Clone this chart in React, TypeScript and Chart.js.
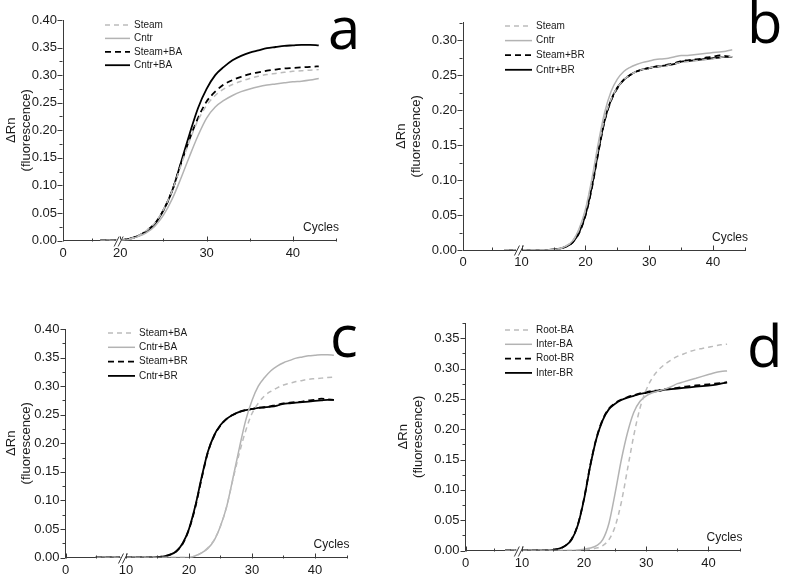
import React, { useEffect, useRef } from 'react';
import { Chart, LinearScale, registerables } from 'chart.js';

Chart.register(...registerables);

class BrokenLinearScale extends LinearScale {
  static id = 'brokenLinear';
  static defaults = LinearScale.defaults;
  _u(v: number) {
    const b = (this as any).options.brk;
    return v < b.at ? v * b.ratio : b.at * b.ratio + (v - b.at);
  }
  getPixelForValue(value: any) {
    if (value === null || value === undefined) return NaN;
    const s: any = this;
    const u0 = this._u(s.min), u1 = this._u(s.max);
    return s.getPixelForDecimal((this._u(value) - u0) / (u1 - u0));
  }
  getValueForPixel(pixel: number) {
    const s: any = this;
    const b = s.options.brk;
    const u0 = this._u(s.min), u1 = this._u(s.max);
    const u = u0 + s.getDecimalForPixel(pixel) * (u1 - u0);
    const ub = b.at * b.ratio;
    return u < ub ? u / b.ratio : b.at + (u - ub);
  }
}
Chart.register(BrokenLinearScale as any);

// ---------------- data ----------------
const CYCLES = [5, 6, 7, 8, 9, 10, 11, 12, 13, 14, 15, 16, 17, 18, 19, 20, 21, 22, 23, 24, 25, 26, 27, 28, 29, 30, 31, 32, 33, 34, 35, 36, 37, 38, 39, 40, 41, 42, 43];

// panel a
const A_STEAM = [0, 0, 0, 0, 0, 0, 0, 0, 0, 0, 0, 0, 0, 0, 0, 0, 0.003, 0.008, 0.018, 0.032, 0.056, 0.090, 0.135, 0.180, 0.218, 0.245, 0.263, 0.275, 0.283, 0.289, 0.294, 0.298, 0.301, 0.303, 0.305, 0.307, 0.308, 0.309, 0.310];
const A_CNTR = [0, 0, 0, 0, 0, 0, 0, 0, 0, 0, 0, 0, 0, 0, 0, 0, 0.002, 0.007, 0.014, 0.026, 0.046, 0.075, 0.112, 0.152, 0.190, 0.222, 0.242, 0.254, 0.263, 0.270, 0.275, 0.279, 0.282, 0.284, 0.286, 0.288, 0.289, 0.291, 0.294];
const STEAM_BA = [0, 0, 0, 0, 0, 0, 0, 0, 0, 0, 0, 0, 0, 0, 0, 0, 0.003, 0.008, 0.017, 0.031, 0.055, 0.090, 0.138, 0.183, 0.222, 0.252, 0.270, 0.283, 0.291, 0.297, 0.302, 0.305, 0.308, 0.310, 0.312, 0.313, 0.314, 0.315, 0.316];
const CNTR_BA = [0, 0, 0, 0, 0, 0, 0, 0, 0, 0, 0, 0, 0, 0, 0, 0, 0.003, 0.008, 0.016, 0.030, 0.055, 0.090, 0.140, 0.192, 0.240, 0.275, 0.300, 0.315, 0.327, 0.335, 0.341, 0.345, 0.349, 0.351, 0.353, 0.354, 0.355, 0.355, 0.354];

// panel b
const B_STEAM = [0, 0, 0, 0, 0, 0, 0, 0, 0, 0, 0.001, 0.002, 0.006, 0.013, 0.029, 0.056, 0.097, 0.146, 0.188, 0.215, 0.232, 0.243, 0.250, 0.255, 0.258, 0.260, 0.262, 0.263, 0.264, 0.266, 0.268, 0.269, 0.270, 0.271, 0.272, 0.273, 0.275, 0.276, 0.276];
const B_CNTR = [0, 0, 0, 0, 0, 0, 0, 0, 0, 0, 0.001, 0.002, 0.006, 0.013, 0.030, 0.058, 0.101, 0.152, 0.196, 0.226, 0.244, 0.255, 0.261, 0.265, 0.268, 0.270, 0.272, 0.273, 0.274, 0.276, 0.278, 0.278, 0.279, 0.280, 0.281, 0.282, 0.283, 0.284, 0.286];
const STEAM_BR = [0, 0, 0, 0, 0, 0, 0, 0, 0, 0, 0.001, 0.002, 0.005, 0.011, 0.024, 0.049, 0.088, 0.138, 0.184, 0.213, 0.231, 0.243, 0.250, 0.255, 0.258, 0.260, 0.262, 0.263, 0.265, 0.267, 0.270, 0.271, 0.272, 0.273, 0.275, 0.276, 0.278, 0.277, 0.276];
const CNTR_BR = [0, 0, 0, 0, 0, 0, 0, 0, 0, 0, 0.001, 0.002, 0.005, 0.011, 0.025, 0.050, 0.090, 0.140, 0.185, 0.214, 0.232, 0.243, 0.250, 0.255, 0.258, 0.260, 0.262, 0.263, 0.264, 0.266, 0.269, 0.270, 0.271, 0.272, 0.273, 0.274, 0.275, 0.276, 0.276];

// panel d
const ROOT_BA = [0, 0, 0, 0, 0, 0, 0, 0, 0, 0, 0, 0, 0, 0, 0, 0.001, 0.002, 0.004, 0.008, 0.018, 0.040, 0.080, 0.135, 0.190, 0.235, 0.265, 0.285, 0.298, 0.307, 0.314, 0.320, 0.324, 0.328, 0.331, 0.333, 0.335, 0.337, 0.339, 0.340];
const INTER_BA = [0, 0, 0, 0, 0, 0, 0, 0, 0, 0, 0, 0, 0, 0, 0.001, 0.002, 0.004, 0.008, 0.018, 0.045, 0.095, 0.150, 0.195, 0.228, 0.246, 0.255, 0.260, 0.263, 0.266, 0.270, 0.275, 0.278, 0.281, 0.284, 0.287, 0.290, 0.293, 0.295, 0.296];
const ROOT_BR = [0, 0, 0, 0, 0, 0, 0, 0, 0, 0, 0.001, 0.003, 0.008, 0.019, 0.043, 0.086, 0.141, 0.186, 0.216, 0.234, 0.243, 0.249, 0.253, 0.256, 0.259, 0.261, 0.263, 0.264, 0.266, 0.267, 0.268, 0.270, 0.271, 0.272, 0.273, 0.274, 0.275, 0.276, 0.277];
const INTER_BR = [0, 0, 0, 0, 0, 0, 0, 0, 0, 0, 0.001, 0.003, 0.008, 0.018, 0.042, 0.085, 0.140, 0.185, 0.215, 0.233, 0.242, 0.248, 0.252, 0.255, 0.258, 0.260, 0.262, 0.263, 0.265, 0.266, 0.267, 0.268, 0.269, 0.270, 0.271, 0.272, 0.273, 0.275, 0.277];

const X_TICKS_A = [0, 20, 30, 40];
const X_MINOR_A = [10, 25, 35, 45];
const X_TICKS = [0, 10, 20, 30, 40];
const X_MINOR = [5, 15, 25, 35, 45];
const Y_TICKS_40 = [0, 0.05, 0.1, 0.15, 0.2, 0.25, 0.3, 0.35, 0.4];
const Y_TICKS_30 = [0, 0.05, 0.1, 0.15, 0.2, 0.25, 0.3];
const Y_TICKS_35 = [0, 0.05, 0.1, 0.15, 0.2, 0.25, 0.3, 0.35];
const Y_MINOR_40 = [0.025, 0.075, 0.125, 0.175, 0.225, 0.275, 0.325, 0.375];
const Y_MINOR_30 = [0.025, 0.075, 0.125, 0.175, 0.225, 0.275, 0.325];
const Y_MINOR_35 = [0.025, 0.075, 0.125, 0.175, 0.225, 0.275, 0.325, 0.375];

const Y_TITLE = ['\u0394Rn', '(fluorescence)'];
const X_TITLE = 'Cycles';

// ---------------- styles ----------------
const FONT = '"Liberation Sans", Arial, sans-serif';
const AXIS = '#3a3a3a';
const TEXT = '#1a1a1a';
const GRAY = '#b3b3b3';
const GRAY_D = '#bcbcbc';
const BLACK = '#000000';

const ST_GRAY_DASH = { borderColor: GRAY_D, borderWidth: 1.5, borderDash: [5, 4] };
const ST_GRAY = { borderColor: GRAY, borderWidth: 1.5, borderDash: [] };
const ST_BLACK_DASH = { borderColor: BLACK, borderWidth: 1.8, borderDash: [6, 4] };
const ST_BLACK = { borderColor: BLACK, borderWidth: 1.8, borderDash: [] };

type Series = { label: string; values: number[]; style: any };

type PanelCfg = {
  letter: string;
  box: { left: number; top: number; w: number; h: number };
  area: { l: number; r: number; t: number; b: number };
  brk: { at: number; ratio: number; mark: number };
  start: number;
  xTicks: number[];
  xMinor: number[];
  yMax: number;
  yTicks: number[];
  yMinor: number[];
  titlePad: number;
  legend: { x: number; y: number; row: number; len: number };
  letterPos: { x: number; y: number };
  series: Series[];
};

const PANELS: PanelCfg[] = [
  {
    letter: 'a',
    box: { left: 0, top: 0, w: 390, h: 290 },
    area: { l: 63, r: 336, t: 20, b: 240.5 },
    brk: { at: 20, ratio: 0.3324, mark: 19.4 },
    start: 13,
    xTicks: X_TICKS_A, xMinor: X_MINOR_A,
    yMax: 0.4, yTicks: Y_TICKS_40, yMinor: Y_MINOR_40.slice(0, 7),
    titlePad: 4,
    legend: { x: 105, y: 25, row: 13.4, len: 25 },
    letterPos: { x: 328, y: 49 },
    series: [
      { label: 'Steam', values: A_STEAM, style: ST_GRAY_DASH },
      { label: 'Cntr', values: A_CNTR, style: ST_GRAY },
      { label: 'Steam+BA', values: STEAM_BA, style: ST_BLACK_DASH },
      { label: 'Cntr+BA', values: CNTR_BA, style: ST_BLACK },
    ],
  },
  {
    letter: 'b',
    box: { left: 390, top: 0, w: 397, h: 290 },
    area: { l: 463, r: 745, t: 22.5, b: 250 },
    brk: { at: 10, ratio: 0.918, mark: 9.55 },
    start: 7,
    xTicks: X_TICKS, xMinor: X_MINOR,
    yMax: 0.325, yTicks: Y_TICKS_30, yMinor: Y_MINOR_30,
    titlePad: 4,
    legend: { x: 505, y: 26, row: 14.6, len: 27 },
    letterPos: { x: 747, y: 43 },
    series: [
      { label: 'Steam', values: B_STEAM, style: ST_GRAY_DASH },
      { label: 'Cntr', values: B_CNTR, style: ST_GRAY },
      { label: 'Steam+BR', values: STEAM_BR, style: ST_BLACK_DASH },
      { label: 'Cntr+BR', values: CNTR_BR, style: ST_BLACK },
    ],
  },
  {
    letter: 'c',
    box: { left: 0, top: 290, w: 390, h: 289 },
    area: { l: 65.5, r: 346.5, t: 329, b: 557.5 },
    brk: { at: 10, ratio: 0.96, mark: 9.5 },
    start: 5,
    xTicks: X_TICKS, xMinor: X_MINOR,
    yMax: 0.4, yTicks: Y_TICKS_40, yMinor: Y_MINOR_40.slice(0, 8).filter((v) => v < 0.4),
    titlePad: 4,
    legend: { x: 108, y: 333, row: 14.3, len: 27 },
    letterPos: { x: 330, y: 357 },
    series: [
      { label: 'Steam+BA', values: STEAM_BA, style: ST_GRAY_DASH },
      { label: 'Cntr+BA', values: CNTR_BA, style: ST_GRAY },
      { label: 'Steam+BR', values: STEAM_BR, style: ST_BLACK_DASH },
      { label: 'Cntr+BR', values: CNTR_BR, style: ST_BLACK },
    ],
  },
  {
    letter: 'd',
    box: { left: 390, top: 290, w: 397, h: 289 },
    area: { l: 465.5, r: 739.5, t: 323, b: 550.5 },
    brk: { at: 10, ratio: 0.908, mark: 9.45 },
    start: 7,
    xTicks: X_TICKS, xMinor: X_MINOR,
    yMax: 0.375, yTicks: Y_TICKS_35, yMinor: Y_MINOR_35,
    titlePad: 6,
    legend: { x: 505, y: 330, row: 14.3, len: 27 },
    letterPos: { x: 747, y: 367 },
    series: [
      { label: 'Root-BA', values: ROOT_BA, style: ST_GRAY_DASH },
      { label: 'Inter-BA', values: INTER_BA, style: ST_GRAY },
      { label: 'Root-BR', values: ROOT_BR, style: ST_BLACK_DASH },
      { label: 'Inter-BR', values: INTER_BR, style: ST_BLACK },
    ],
  },
];

function buildPoints(values: number[], start: number, brkAt: number) {
  const pts: { x: number; y: number | null }[] = [];
  CYCLES.forEach((c, i) => {
    if (c < start) return;
    if (c >= brkAt && pts.length && (pts[pts.length - 1].x as number) < brkAt) {
      pts.push({ x: brkAt - 0.5, y: null });
    }
    pts.push({ x: c, y: values[i] });
  });
  return pts;
}

function makeDeco(p: PanelCfg) {
  return {
    id: 'deco' + p.letter,
    afterDraw(chart: any) {
      const ctx = chart.ctx as CanvasRenderingContext2D;
      const xs = chart.scales.x, ys = chart.scales.y;
      const { left, bottom, right } = chart.chartArea;
      const ox = p.box.left, oy = p.box.top;
      ctx.save();
      ctx.strokeStyle = AXIS;
      ctx.lineWidth = 1;
      const line = (x1: number, y1: number, x2: number, y2: number) => {
        ctx.beginPath(); ctx.moveTo(x1, y1); ctx.lineTo(x2, y2); ctx.stroke();
      };
      const by = Math.round(bottom) + 0.5;
      const lx = Math.round(left) - 0.5;
      p.xTicks.forEach((v) => { const px = Math.round(xs.getPixelForValue(v)) + 0.5; line(px, by, px, by - 5); });
      p.xMinor.forEach((v) => { const px = Math.round(xs.getPixelForValue(v)) + 0.5; line(px, by, px, by - 3); });
      p.yTicks.forEach((v) => { const py = Math.round(ys.getPixelForValue(v)) + 0.5; line(lx, py, lx - 5, py); });
      p.yMinor.forEach((v) => { if (v <= p.yMax) { const py = Math.round(ys.getPixelForValue(v)) + 0.5; line(lx, py, lx - 3, py); } });

      // axis break
      const bx = xs.getPixelForValue(p.brk.mark);
      ctx.fillStyle = '#ffffff';
      ctx.fillRect(bx - 2.5, by - 2, 5, 4);
      [-2, 2].forEach((dx) => line(bx + dx - 2.5, by + 5, bx + dx + 2.5, by - 5));

      // Cycles label
      ctx.fillStyle = TEXT;
      ctx.font = '12px ' + FONT;
      ctx.textAlign = 'right';
      ctx.textBaseline = 'middle';
      ctx.fillText(X_TITLE, right + 3, bottom - 12.5);

      // legend
      ctx.textAlign = 'left';
      ctx.font = '10px ' + FONT;
      p.series.forEach((s, i) => {
        const y = p.legend.y - oy + i * p.legend.row;
        const x = p.legend.x - ox;
        ctx.save();
        ctx.strokeStyle = s.style.borderColor;
        ctx.lineWidth = s.style.borderWidth;
        ctx.setLineDash(s.style.borderDash);
        line(x, y, x + p.legend.len, y);
        ctx.restore();
        ctx.fillStyle = TEXT;
        ctx.fillText(s.label, x + p.legend.len + 4, y);
      });

      // panel letter
      ctx.fillStyle = '#000';
      ctx.font = '58px "Open Sans", ' + FONT;
      ctx.textAlign = 'left';
      ctx.textBaseline = 'alphabetic';
      ctx.fillText(p.letter, p.letterPos.x - ox, p.letterPos.y - oy);
      ctx.restore();
    },
  };
}

function Panel({ p }: { p: PanelCfg }) {
  const ref = useRef<HTMLCanvasElement>(null);
  useEffect(() => {
    if (!ref.current) return;
    const axisW = p.area.l - p.box.left;
    const axisH = p.box.top + p.box.h - p.area.b;
    const chart = new Chart(ref.current, {
      type: 'line',
      data: {
        datasets: p.series.map((s) => ({
          label: s.label,
          data: buildPoints(s.values, p.start, p.brk.at),
          borderColor: s.style.borderColor,
          borderWidth: s.style.borderWidth,
          borderDash: s.style.borderDash,
          pointRadius: 0,
          fill: false,
          spanGaps: false,
          cubicInterpolationMode: 'monotone',
        })),
      } as any,
      options: {
        animation: false,
        responsive: false,
        maintainAspectRatio: false,
        events: [],
        layout: {
          padding: {
            left: 0,
            top: p.area.t - p.box.top,
            right: p.box.left + p.box.w - p.area.r,
            bottom: 0,
          },
        },
        plugins: { legend: { display: false }, tooltip: { enabled: false } },
        scales: {
          x: {
            type: 'brokenLinear',
            brk: { at: p.brk.at, ratio: p.brk.ratio },
            min: 0,
            max: 45,
            grid: { display: false, drawTicks: false },
            border: { display: true, color: AXIS, width: 1 },
            afterBuildTicks: (s: any) => { s.ticks = p.xTicks.map((v) => ({ value: v })); },
            afterFit: (s: any) => { s.height = axisH; },
            ticks: {
              autoSkip: false, maxRotation: 0, padding: 5,
              color: TEXT, font: { family: FONT, size: 13 },
              callback: (v: any) => String(v),
            },
          },
          y: {
            type: 'linear',
            min: 0,
            max: p.yMax,
            grid: { display: false, drawTicks: false },
            border: { display: true, color: AXIS, width: 1 },
            afterBuildTicks: (s: any) => { s.ticks = p.yTicks.map((v) => ({ value: v })); },
            afterFit: (s: any) => { s.width = axisW; },
            ticks: {
              autoSkip: false, padding: 6,
              color: TEXT, font: { family: FONT, size: 13 },
              callback: (v: any) => Number(v).toFixed(2),
            },
            title: {
              display: true, text: Y_TITLE, color: TEXT,
              font: { family: FONT, size: 13, lineHeight: 1.15 },
              padding: { top: p.titlePad, bottom: 0 },
            },
          },
        } as any,
      },
      plugins: [makeDeco(p)],
    } as any);
    return () => chart.destroy();
  }, [p]);
  return (
    <canvas
      ref={ref}
      width={p.box.w}
      height={p.box.h}
      style={{ position: 'absolute', left: p.box.left, top: p.box.top, width: p.box.w, height: p.box.h, display: 'block' }}
    />
  );
}

export default function App() {
  return (
    <div style={{ position: 'absolute', left: 0, top: 0, width: 787, height: 579, background: '#fff', overflow: 'hidden' }}>
      {PANELS.map((p) => <Panel key={p.letter} p={p} />)}
    </div>
  );
}
